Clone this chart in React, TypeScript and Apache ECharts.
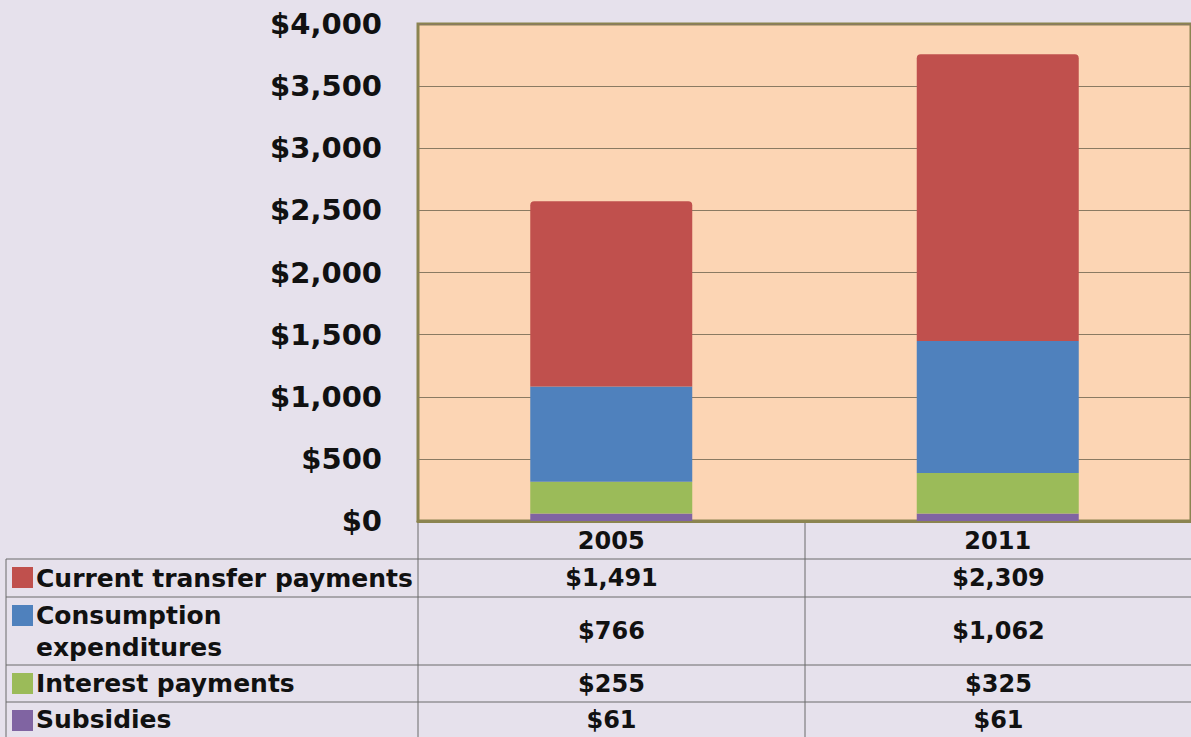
import React, { useEffect, useRef } from "react";
import * as echarts from "echarts";

const categories = ["2005", "2011"];
const seriesNames = ["Current transfer payments", "Consumption expenditures", "Interest payments", "Subsidies"];
const tableLabels = [["Current transfer payments"], ["Consumption", "expenditures"], ["Interest payments"], ["Subsidies"]];
const transferPayments = [1491, 2309];
const consumptionExp = [766, 1062];
const interestPayments = [255, 325];
const subsidies = [61, 61];
const yTicks = [0, 500, 1000, 1500, 2000, 2500, 3000, 3500, 4000];

const colors = ["#c0504d", "#4f81bd", "#9bbb59", "#8064a2"];
const FONT = "DejaVu Sans, Verdana, sans-serif";

const fmt = (v: number) => "$" + v.toLocaleString("en-US");

export default function App() {
  const ref = useRef<HTMLDivElement>(null);
  useEffect(() => {
    document.body.style.margin = "0";
    const chart = echarts.init(ref.current!, undefined, { renderer: "svg" });
    const gridLeft = 418, gridTop = 24, gridW = 774, gridH = 497;
    const colW = gridW / categories.length;
    const values = [transferPayments, consumptionExp, interestPayments, subsidies];
    const rowTops = [559, 597, 665, 702];
    const rowBottoms = [597, 665, 702, 737];
    const lineColor = "#6a6a6a";
    const graphics: any[] = [];
    rowTops.forEach((y) => {
      graphics.push({ type: "line", shape: { x1: 6, y1: y, x2: 1191, y2: y }, style: { stroke: lineColor, lineWidth: 1 }, silent: true });
    });
    graphics.push({ type: "line", shape: { x1: 6, y1: 559, x2: 6, y2: 737 }, style: { stroke: lineColor, lineWidth: 1 } });
    for (let i = 0; i <= categories.length; i++) {
      const x = gridLeft + i * colW;
      graphics.push({ type: "line", shape: { x1: x, y1: 521, x2: x, y2: 737 }, style: { stroke: lineColor, lineWidth: 1 } });
    }
    tableLabels.forEach((lines, r) => {
      const top = rowTops[r], bottom = rowBottoms[r];
      graphics.push({ type: "rect", shape: { x: 12, y: top + 8, width: 21, height: 21 }, style: { fill: colors[r] } });
      const cy = (top + bottom) / 2;
      const lh = 32;
      lines.forEach((t, k) => {
        const y = lines.length === 1 ? cy : cy - lh / 2 + k * lh;
        graphics.push({
          type: "text", x: 36, y, style: { text: t, font: `bold 25px ${FONT}`, fill: "#111", textVerticalAlign: "middle", textAlign: "left" },
        });
      });
      categories.forEach((_, c) => {
        graphics.push({
          type: "text", x: gridLeft + (c + 0.5) * colW, y: cy,
          style: { text: fmt(values[r][c]), font: `bold 24px ${FONT}`, fill: "#111", textAlign: "center", textVerticalAlign: "middle" },
        });
      });
    });

    const stackOrder = [3, 2, 1, 0];
    chart.setOption({
      animation: false,
      backgroundColor: "#e6e1ec",
      grid: {
        left: gridLeft, top: gridTop, width: gridW, height: gridH,
        show: true, backgroundColor: "#fcd5b4", borderColor: "#8b8450", borderWidth: 3,
      },
      xAxis: {
        type: "category", data: categories,
        axisLine: { lineStyle: { color: "#8b8450", width: 3 } },
        axisTick: { show: false },
        axisLabel: { fontFamily: FONT, fontWeight: "bold", fontSize: 24, color: "#111", margin: 8 },
      },
      yAxis: {
        type: "value", min: yTicks[0], max: yTicks[yTicks.length - 1], interval: 500,
        axisLine: { show: false }, axisTick: { show: false },
        splitLine: { lineStyle: { color: "#8a7a62", width: 1 } },
        axisLabel: { formatter: (v: number) => fmt(v), fontFamily: FONT, fontWeight: "bold", fontSize: 29, color: "#111", margin: 36 },
      },
      series: stackOrder.map((i) => ({
        type: "bar", name: seriesNames[i], stack: "total", data: values[i], barWidth: 162,
        itemStyle: { color: colors[i], borderRadius: i === 0 ? [4, 4, 0, 0] : 0 },
      })),
      graphic: graphics,
    });
    return () => chart.dispose();
  }, []);
  return <div ref={ref} style={{ width: 1191, height: 737 }} />;
}
